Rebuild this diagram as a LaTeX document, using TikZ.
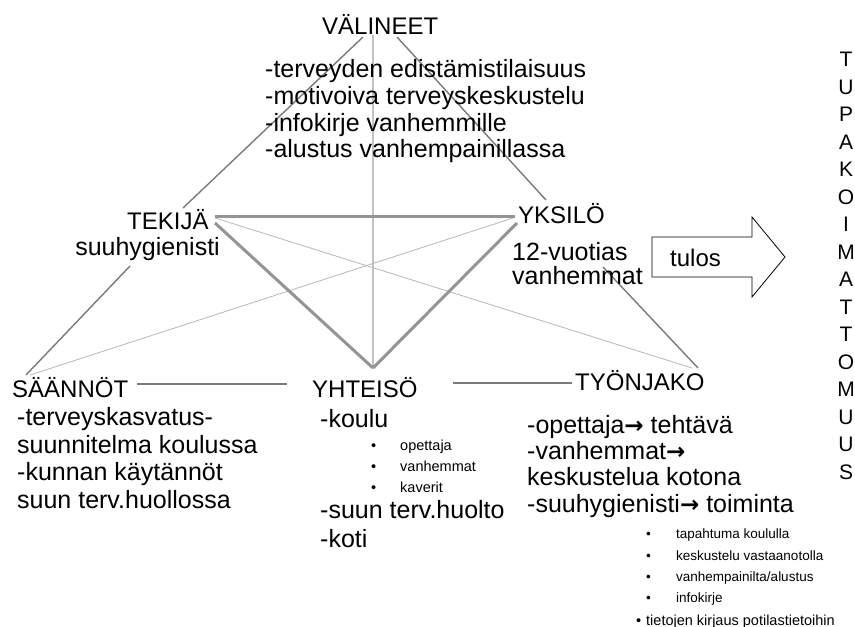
\documentclass[tikz,border=0pt]{standalone}
\usepackage{fontspec}
\setmainfont{Liberation Sans}
\newfontfamily\arrfont{DejaVu Sans}
\newcommand\bigf{\fontsize{24}{28}\selectfont}
\newcommand\bodyf{\fontsize{25}{28}\selectfont}
\newcommand\smallf{\fontsize{14.5}{18}\selectfont}
\newcommand\tinyf{\fontsize{13.5}{18}\selectfont}
\newcommand\ar{{\arrfont\bfseries\fontsize{23}{26}\selectfont →}}
\begin{document}
\begin{tikzpicture}[x=1pt,y=-1pt,
  ttl/.style={anchor=base west, inner sep=0pt, font=\bigf},
  txt/.style={anchor=base west, inner sep=0pt, font=\bodyf},
  sm/.style={anchor=base west, inner sep=0pt, font=\smallf},
  tn/.style={anchor=base west, inner sep=0pt, font=\tinyf},
  thickln/.style={draw=black!42, line width=3pt},
  medln/.style={draw=black!52, line width=1.4pt},
  thinln/.style={draw=black!28, line width=0.8pt},
  vertln/.style={draw=black!24, line width=1.2pt}]
\useasboundingbox (0,0) rectangle (855,627);
\clip (0,0) rectangle (855,627);
\fill[white] (0,0) rectangle (855,627);

% connector end points
\coordinate (vL) at (363,37);
\coordinate (vM) at (373,35);
\coordinate (vR) at (397,37);
\coordinate (tU) at (183,208);
\coordinate (tD) at (130,266);
\coordinate (yU) at (546,200);
\coordinate (yD) at (603,267);
\coordinate (hub) at (373,368);
\coordinate (tA) at (215,216);
\coordinate (tB) at (215,223);
\coordinate (tC) at (215,218);
\coordinate (yA) at (515,216);
\coordinate (yB) at (517,223);
\coordinate (yC) at (513,218);
\coordinate (sTop) at (26,375);
\coordinate (sTop2) at (30,375);
\coordinate (jTop) at (698,368);
\coordinate (jTop2) at (692,368);
\coordinate (sR) at (137,384);
\coordinate (hL) at (287,384);
\coordinate (hR) at (453,383);
\coordinate (jL) at (572,383);

% light / thin lines
\draw[vertln] (vM) -- (hub);
\draw[thinln] (tC) -- (jTop2);
\draw[thinln] (yC) -- (sTop2);
% medium lines
\draw[medln] (vL) -- (tU);
\draw[medln] (tD) -- (sTop);
\draw[medln] (vR) -- (yU);
\draw[medln] (yD) -- (jTop);
\draw[medln] (sR) -- (hL);
\draw[medln] (hR) -- (jL);
% thick triangle
\draw[thickln] (tA) -- (yA);
\draw[thickln] (tB) -- (hub);
\draw[thickln] (yB) -- (hub);

% VALINEET
\node[ttl] (val) at (322,34) {VÄLINEET};
\node[txt] (val1) at (265,77) {-terveyden edistämistilaisuus};
\node[txt] (val2) at (265,104) {-motivoiva terveyskeskustelu};
\node[txt] (val3) at (265,131) {-infokirje vanhemmille};
\node[txt] (val4) at (265,157) {-alustus vanhempainillassa};

% TEKIJA
\node[ttl] (tek) at (127,229) {TEKIJÄ};
\node[txt, anchor=base east] (tek1) at (220,255) {suuhygienisti};

% YKSILO
\node[ttl] (yks) at (518,223) {YKSILÖ};
\node[txt] (yks1) at (512,260) {12-vuotias};
\node[txt] (yks2) at (512,284) {vanhemmat};

% SAANNOT
\node[ttl] (saa) at (12,397) {SÄÄNNÖT};
\node[txt] (saa1) at (17,425) {-terveyskasvatus-};
\node[txt] (saa2) at (17,453) {suunnitelma koulussa};
\node[txt] (saa3) at (17,480) {-kunnan käytännöt};
\node[txt] (saa4) at (17,508) {suun terv.huollossa};

% YHTEISO
\node[ttl] (yht) at (312,397) {YHTEISÖ};
\node[txt] (yht1) at (320,427) {-koulu};
\node[sm] (yb1) at (371,450) {•};
\node[sm] (yt1) at (400,450) {opettaja};
\node[sm] (yb2) at (371,471) {•};
\node[sm] (yt2) at (400,471) {vanhemmat};
\node[sm] (yb3) at (371,492) {•};
\node[sm] (yt3) at (400,492) {kaverit};
\node[txt] (yht2) at (320,518) {-suun terv.huolto};
\node[txt] (yht3) at (320,547) {-koti};

% TYONJAKO
\node[ttl] (tyo) at (575,390) {TYÖNJAKO};
\node[txt] (tyo1) at (527,433) {-opettaja\ar\ tehtävä};
\node[txt] (tyo2) at (527,459) {-vanhemmat\ar};
\node[txt] (tyo3) at (527,485) {keskustelua kotona};
\node[txt] (tyo4) at (527,512) {-suuhygienisti\ar\ toiminta};
\node[tn] (tb1) at (646,538) {•};
\node[tn] (tt1) at (676,538) {tapahtuma koululla};
\node[tn] (tb2) at (646,560) {•};
\node[tn] (tt2) at (676,560) {keskustelu vastaanotolla};
\node[tn] (tb3) at (646,581) {•};
\node[tn] (tt3) at (676,581) {vanhempainilta/alustus};
\node[tn] (tb4) at (646,602) {•};
\node[tn] (tt4) at (676,602) {infokirje};
\node[sm] (tb5) at (636,625) {•};
\node[sm] (tt5) at (646,625) {tietojen kirjaus potilastietoihin};

% result arrow
\draw[black, line width=0.8pt, fill=white] (652,237) -- (752,237) -- (752,217) -- (785,257) -- (752,297) -- (752,277) -- (652,277) -- cycle;
\node[ttl] (tul) at (670,266) {tulos};

% vertical word
\node[anchor=north, inner sep=0pt, align=center, font=\fontsize{21}{27.5}\selectfont] (tup) at (846,52)
  {T\\U\\P\\A\\K\\O\\I\\M\\A\\T\\T\\O\\M\\U\\U\\S};
\end{tikzpicture}
\end{document}
